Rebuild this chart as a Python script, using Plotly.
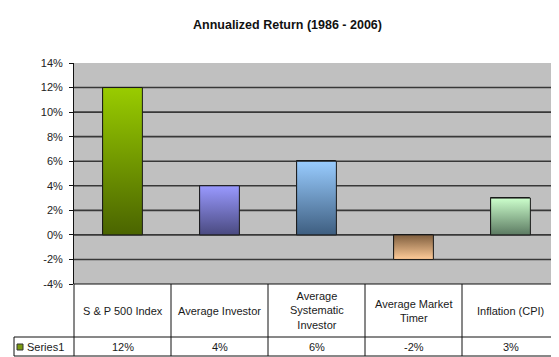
import plotly.graph_objects as go

# ---- data ----
categories = ["S & P 500 Index", "Average Investor", "Average Systematic Investor",
              "Average Market Timer", "Inflation (CPI)"]
header_labels = ["S & P 500 Index", "Average Investor", "Average<br>Systematic<br>Investor",
                 "Average Market<br>Timer", "Inflation (CPI)"]
values = [12, 4, 6, -2, 3]
value_labels = ["12%", "4%", "6%", "-2%", "3%"]
series_name = "Series1"
y_ticks = [-4, -2, 0, 2, 4, 6, 8, 10, 12, 14]
y_tick_labels = ["-4%", "-2%", "0%", "2%", "4%", "6%", "8%", "10%", "12%", "14%"]
title_text = "Annualized Return (1986 - 2006)"

# ---- styles ----
light_colors = ["#99CC00", "#9999FF", "#99CCFF", "#FFCC99", "#CCFFCC"]
dark_colors = ["#4A6400", "#4A4A80", "#3E5E80", "#7F5E3E", "#5C7A62"]
mid_colors = ["#739900", "#7070C0", "#6C94C0", "#C0966C", "#94BC96"]
FONT = "Arial, 'Liberation Sans', sans-serif"
W, H = 559, 357
ML, MR, MT, MB = 66, 8, 55, 81
PW, PH = W - ML - MR, H - MT - MB
BAR_W = 0.41

def px(xp):
    return (xp - ML) / PW

def py(yp):
    return (H - MB - yp) / PH

n = len(categories)
xs = list(range(n))

fig = go.Figure()
fig.add_trace(go.Bar(
    x=xs, y=values, width=BAR_W, name=series_name,
    marker=dict(color=mid_colors, line=dict(color="#1a1a1a", width=1)),
    hovertext=categories, showlegend=False,
))

# gradient overlays following each bar's geometry
for i, v in enumerate(values):
    lo, hi = (light_colors[i], dark_colors[i]) if v < 0 else (dark_colors[i], light_colors[i])
    x0, x1 = xs[i] - BAR_W / 2, xs[i] + BAR_W / 2
    fig.add_trace(go.Scatter(
        x=[x0, x0, x1, x1, x0], y=[0, v, v, 0, 0],
        mode="lines", fill="toself",
        fillgradient=dict(type="vertical", colorscale=[[0, lo], [1, hi]]),
        line=dict(color="#1a1a1a", width=1),
        hoverinfo="skip", showlegend=False,
    ))

shapes = []
# gridlines (not at the top / bottom edges)
for v in y_ticks:
    if y_ticks[0] < v < y_ticks[-1]:
        shapes.append(dict(type="line", xref="paper", yref="y", x0=0, x1=1, y0=v, y1=v,
                           line=dict(color="#383838", width=1.6), layer="below"))

# data table lines
LINE = dict(color="#111111", width=1)
row_mid = py(329)
row_bot = py(348)
left_x = px(6)
shapes.append(dict(type="line", xref="paper", yref="paper", x0=0, x1=1, y0=0, y1=0, line=LINE))
shapes.append(dict(type="line", xref="paper", yref="paper", x0=left_x, x1=1, y0=row_mid, y1=row_mid, line=LINE))
shapes.append(dict(type="line", xref="paper", yref="paper", x0=left_x, x1=1, y0=row_bot, y1=row_bot, line=LINE))
for k in range(n + 1):
    shapes.append(dict(type="line", xref="paper", yref="paper", x0=k / n, x1=k / n,
                       y0=row_bot, y1=0, line=LINE))
shapes.append(dict(type="line", xref="paper", yref="paper", x0=left_x, x1=left_x,
                   y0=row_bot, y1=row_mid, line=LINE))
# legend key
shapes.append(dict(type="rect", xref="paper", yref="paper", x0=px(9), x1=px(15),
                   y0=py(342), y1=py(336), fillcolor="#7A9A10",
                   line=dict(color="#333333", width=1)))

annotations = []
for i in range(n):
    annotations.append(dict(xref="paper", yref="paper", x=(i + 0.5) / n, y=py(302.5),
                            text=header_labels[i], showarrow=False, xanchor="center",
                            yanchor="middle", font=dict(family=FONT, size=11, color="#1a1a1a")))
    annotations.append(dict(xref="paper", yref="paper", x=(i + 0.5) / n, y=py(338.5),
                            text=value_labels[i], showarrow=False, xanchor="center",
                            yanchor="middle", font=dict(family=FONT, size=11, color="#1a1a1a")))
annotations.append(dict(xref="paper", yref="paper", x=px(17), y=py(338.5), text=series_name,
                        showarrow=False, xanchor="left", yanchor="middle",
                        font=dict(family=FONT, size=11, color="#1a1a1a")))

fig.update_layout(
    width=W, height=H,
    margin=dict(l=ML, r=MR, t=MT, b=MB, pad=0),
    paper_bgcolor="white", plot_bgcolor="#C0C0C0",
    title=dict(text="<b>" + title_text + "</b>", x=0.5, xanchor="center",
               y=1 - 17 / H, yanchor="middle", yref="container",
               font=dict(family=FONT, size=12.5, color="#111111")),
    xaxis=dict(range=[-0.5, n - 0.5], visible=False, fixedrange=True),
    yaxis=dict(range=[y_ticks[0], y_ticks[-1]], tickmode="array", tickvals=y_ticks,
               ticktext=y_tick_labels, ticks="outside", ticklen=4, tickcolor="#111111",
               tickwidth=1, showline=True, linecolor="#111111", linewidth=1,
               showgrid=False, zeroline=False, ticklabelstandoff=4,
               tickfont=dict(family=FONT, size=11, color="#222222")),
    shapes=shapes, annotations=annotations,
    showlegend=False, bargap=0,
)

fig.write_html("out.html")
